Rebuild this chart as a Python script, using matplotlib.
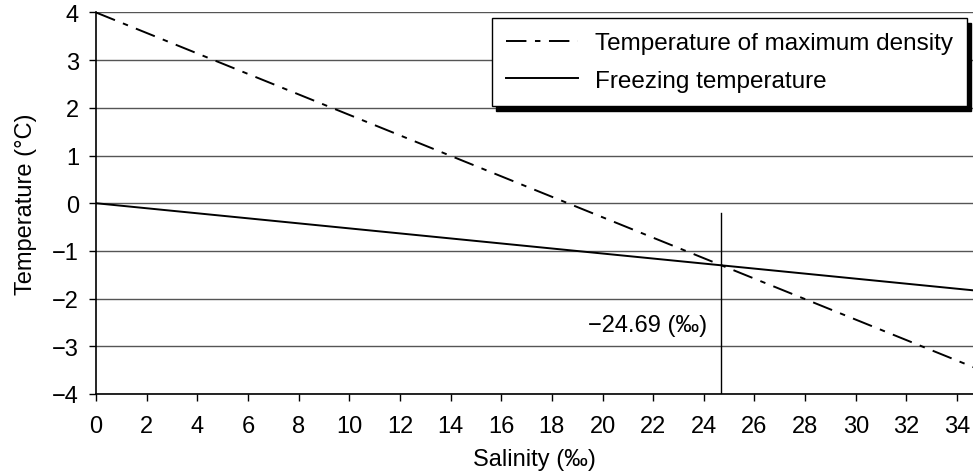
import matplotlib
matplotlib.use("Agg")
import matplotlib.pyplot as plt

plt.rcParams['font.family'] = ['Liberation Sans', 'DejaVu Sans']

# Data
salinity_ends = [0.0, 34.7]
tmd_values = [4.0, -3.45]          # Temperature of maximum density
freezing_values = [0.0, -1.83]     # Freezing temperature
cross_salinity = 24.69
vline_y = [-4.0, -0.2]
xticks = list(range(0, 35, 2))
yticks = list(range(-4, 5))
ytick_labels = ['\u22124', '\u22123', '\u22122', '\u22121', '0', '1', '2', '3', '4']

FS = 17

fig = plt.figure(figsize=(9.73, 4.77), dpi=100)
ax = fig.add_axes([0.0987, 0.172, 0.9013, 0.7997])

for y in yticks:
    ax.axhline(y, color='#555555', lw=1.0, zorder=1)

ax.plot(salinity_ends, tmd_values, color='black', lw=1.4,
        dashes=(10.5, 4.4, 2.8, 4.4), label='Temperature of maximum density', zorder=3)
ax.plot(salinity_ends, freezing_values, color='black', lw=1.4,
        label='Freezing temperature', zorder=3)
ax.plot([cross_salinity, cross_salinity], vline_y, color='black', lw=1.0, zorder=3)

ax.text(24.15, -2.55, '\u221224.69 (\u2030)', ha='right', va='center', fontsize=FS)

ax.set_xlim(0, 34.63)
ax.set_ylim(-4, 4)
ax.set_xticks(xticks)
ax.set_yticks(yticks)
ax.set_yticklabels(ytick_labels)
ax.tick_params(labelsize=FS, direction='out', length=5.3, width=1, colors='black')
ax.tick_params(axis='x', pad=10)
ax.tick_params(axis='y', pad=7)
ax.spines['top'].set_visible(False)
ax.spines['right'].set_visible(False)
ax.spines['left'].set_linewidth(1.2)
ax.spines['bottom'].set_linewidth(1.2)
ax.set_xlabel('Salinity (\u2030)', fontsize=FS, labelpad=8)
ax.set_ylabel('Temperature (\u00b0C)', fontsize=FS, labelpad=11)

leg = ax.legend(loc='upper left', bbox_to_anchor=(492/973, 1 - 19.3/477),
                bbox_transform=fig.transFigure, fontsize=17.5, frameon=True,
                fancybox=False,
                shadow={'color': 'black', 'alpha': 1, 'ox': 3, 'oy': -3.5},
                edgecolor='black', framealpha=1, handlelength=2.95,
                borderpad=0.58, labelspacing=0.64, handletextpad=0.7,
                borderaxespad=0)
leg.get_frame().set_linewidth(1.0)
leg.set_zorder(5)

fig.savefig('out.png', dpi=100)
